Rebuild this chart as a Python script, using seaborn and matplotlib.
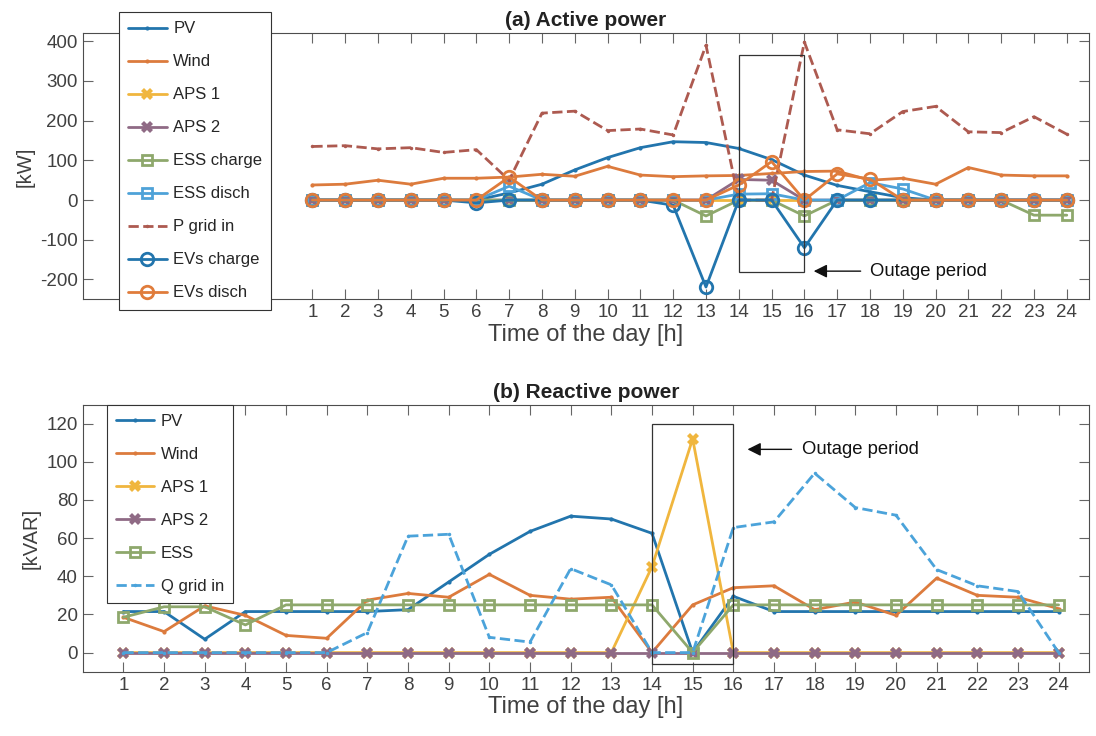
import numpy as np
import pandas as pd
import matplotlib
matplotlib.use("Agg")
import matplotlib.pyplot as plt
import seaborn as sns
from matplotlib.patches import Rectangle

# ---------------- data ----------------
hours = list(range(1, 25))

# (a) Active power [kW]
pv_p = [0, 0, 0, 0, 0, 0, 18, 40, 76, 107, 132, 147, 145, 130, 102, 63, 37, 21, 6, 0, 0, 0, 0, 0]
wind_p = [38, 40, 50, 40, 55, 55, 58, 65, 60, 85, 63, 59, 61, 62, 67, 72, 73, 50, 55, 40, 82, 63, 61, 61]
aps1_p = [0] * 24
aps2_p = [0, 0, 0, 0, 0, 0, 0, 0, 0, 0, 0, 0, 0, 52, 50, 0, 0, 0, 0, 0, 0, 0, 0, 0]
ess_ch_p = [0, 0, 0, 0, 0, 0, 0, 0, 0, 0, 0, 0, -40, 0, 0, -40, 0, 0, 0, 0, 0, 0, -38, -38]
ess_dis_p = [0, 0, 0, 0, 0, 0, 35, 0, 0, 0, 0, 0, 0, 15, 16, 0, 0, 44, 28, 0, 0, 0, 0, 0]
pgrid_p = [135, 137, 129, 132, 120, 127, 50, 219, 224, 175, 179, 164, 390, 0, 0, 398, 177, 167, 223, 236, 172, 170, 210, 166]
ev_ch_p = [0, 0, 0, 0, 0, -7, 0, 0, 0, 0, 0, -13, -219, 0, 0, -120, 0, 0, 0, 0, 0, 0, 0, 0]
ev_dis_p = [0, 0, 0, 0, 0, 0, 58, 0, 0, 0, 0, 0, 0, 38, 97, 0, 66, 53, 0, 0, 0, 0, 0, 0]

# (b) Reactive power [kVAR]
pv_q = [21.5, 21.5, 7, 21.5, 21.5, 21.5, 21.5, 22.5, 37, 51.5, 63.5, 71.5, 70, 62.5, 0, 29.5,
        21.5, 21.5, 21.5, 21.5, 21.5, 21.5, 21.5, 21.5]
wind_q = [18.5, 11, 24.5, 19.5, 9, 7.5, 27.5, 31, 29, 41, 30, 28, 29, 0, 25, 34,
          35, 22.5, 26.5, 19.5, 39, 30, 29, 23]
aps1_q = [0, 0, 0, 0, 0, 0, 0, 0, 0, 0, 0, 0, 0, 45, 112, 0, 0, 0, 0, 0, 0, 0, 0, 0]
aps2_q = [0] * 24
ess_q = [18.5, 24, 24, 14.5, 25, 25, 25, 25, 25, 25, 25, 25, 25, 25, 0, 25,
         25, 25, 25, 25, 25, 25, 25, 25]
qgrid_q = [0, 0, 0, 0, 0, 0, 10.5, 61, 62, 8, 5.5, 44, 35.5, 0, 0, 65.5,
           68.5, 94, 76, 72, 43.5, 35, 32, 0]

xticks = hours
yticks_a = [-200, -100, 0, 100, 200, 300, 400]
yticks_b = [0, 20, 40, 60, 80, 100, 120]

# ---------------- style ----------------
sns.set_style("ticks")
plt.rcParams["font.family"] = ["Liberation Sans", "DejaVu Sans"]
plt.rcParams["font.size"] = 13
plt.rcParams["axes.unicode_minus"] = False

C_PV = "#2275ad"
C_WIND = "#dc7b3d"
C_APS1 = "#f0b63e"
C_APS2 = "#8f6a85"
C_ESS = "#8ea86c"
C_ESSD = "#4ea2d8"
C_PG = "#ad5a50"
C_EVC = "#2275ad"
C_EVD = "#e07c3b"
C_QG = "#4ba3da"

fig = plt.figure(figsize=(10.96, 7.36), dpi=100)
ax1 = fig.add_axes([0.0755, 0.5933, 0.9182, 0.3614])
ax2 = fig.add_axes([0.0755, 0.0874, 0.9182, 0.3630])


def draw(ax, y, label, color, marker=None, ms=4, mew=1.5, mfc=None, ls="-", dashes=None):
    kw = dict(color=color, lw=2.0, label=label, linestyle=ls)
    if marker is not None:
        kw.update(marker=marker, markersize=ms, markeredgewidth=mew,
                  markeredgecolor=color,
                  markerfacecolor=(color if mfc is None else mfc))
    if dashes is not None:
        kw["dashes"] = dashes
    df = pd.DataFrame({"h": hours, "v": y})
    sns.lineplot(data=df, x="h", y="v", ax=ax, **kw)


# (a)
draw(ax1, pv_p, "PV", C_PV, marker=".", ms=4, mew=1)
draw(ax1, wind_p, "Wind", C_WIND, marker=".", ms=4, mew=1)
draw(ax1, aps1_p, "APS 1", C_APS1, marker="X", ms=8, mew=0)
draw(ax1, aps2_p, "APS 2", C_APS2, marker="X", ms=8, mew=0)
draw(ax1, ess_ch_p, "ESS charge", C_ESS, marker="s", ms=7, mew=2, mfc="none")
draw(ax1, ess_dis_p, "ESS disch", C_ESSD, marker="s", ms=7, mew=2, mfc="none")
draw(ax1, pgrid_p, "P grid in", C_PG, marker=".", ms=3, mew=1, ls="--", dashes=(4, 3))
draw(ax1, ev_ch_p, "EVs charge", C_EVC, marker="o", ms=9, mew=2, mfc="none")
draw(ax1, ev_dis_p, "EVs disch", C_EVD, marker="o", ms=9, mew=2, mfc="none")

# (b)
draw(ax2, pv_q, "PV", C_PV, marker=".", ms=4, mew=1)
draw(ax2, wind_q, "Wind", C_WIND, marker=".", ms=4, mew=1)
draw(ax2, aps1_q, "APS 1", C_APS1, marker="X", ms=8, mew=0)
draw(ax2, aps2_q, "APS 2", C_APS2, marker="X", ms=8, mew=0)
draw(ax2, ess_q, "ESS", C_ESS, marker="s", ms=7, mew=2, mfc="none")
draw(ax2, qgrid_q, "Q grid in", C_QG, marker=".", ms=3, mew=1, ls="--", dashes=(4, 3))

# outage boxes and annotations
ax1.add_patch(Rectangle((14, -182), 2, 547, fill=False, ec="#333333", lw=0.9, zorder=5))
ax1.annotate("", xy=(16.2, -179), xytext=(17.8, -179),
             arrowprops=dict(arrowstyle="-|>", color="#111111", lw=1.0, mutation_scale=20))
ax1.text(18.0, -179, "Outage period", ha="left", va="center", fontsize=13.3, color="#111111")

ax2.add_patch(Rectangle((14, -6), 2, 126, fill=False, ec="#333333", lw=0.9, zorder=5))
ax2.annotate("", xy=(16.28, 106.5), xytext=(17.5, 106.5),
             arrowprops=dict(arrowstyle="-|>", color="#111111", lw=1.0, mutation_scale=20))
ax2.text(17.7, 106.5, "Outage period", ha="left", va="center", fontsize=13.3, color="#111111")

# axes formatting
for ax, yt, ylab, title, xl, yl in [
    (ax1, yticks_a, "[kW]", "(a) Active power", (-6, 24.68), (-250, 420)),
    (ax2, yticks_b, "[kVAR]", "(b) Reactive power", (0, 24.75), (-10, 130)),
]:
    ax.set_xlim(*xl)
    ax.set_ylim(*yl)
    ax.set_xticks(xticks)
    ax.set_yticks(yt)
    ax.tick_params(direction="in", length=7, width=0.8, top=True, right=True,
                   color="#666666", labelcolor="#404040", labelsize=13.5)
    for s in ax.spines.values():
        s.set_visible(True)
        s.set_color("#4d4d4d")
        s.set_linewidth(0.8)
    ax.set_xlabel("Time of the day [h]", fontsize=17, color="#404040", labelpad=2)
    ax.set_ylabel(ylab, fontsize=14.5, color="#404040")
    ax.set_title(title, fontsize=15, fontweight="bold", color="#222222", pad=5)

leg_kw = dict(loc="upper left", borderaxespad=0, fontsize=12, handlelength=2.3,
              handletextpad=0.4, labelspacing=1.08, frameon=True, fancybox=False,
              edgecolor="#333333", framealpha=1, borderpad=0.55)
leg1 = ax1.legend(bbox_to_anchor=(0.0361, 1.079), **leg_kw)
leg1.get_frame().set_linewidth(0.8)
leg1.set_zorder(10)
leg2 = ax2.legend(bbox_to_anchor=(0.0239, 1.0), **leg_kw)
leg2.get_frame().set_linewidth(0.8)
leg2.set_zorder(10)

fig.savefig("out.png", dpi=100)
